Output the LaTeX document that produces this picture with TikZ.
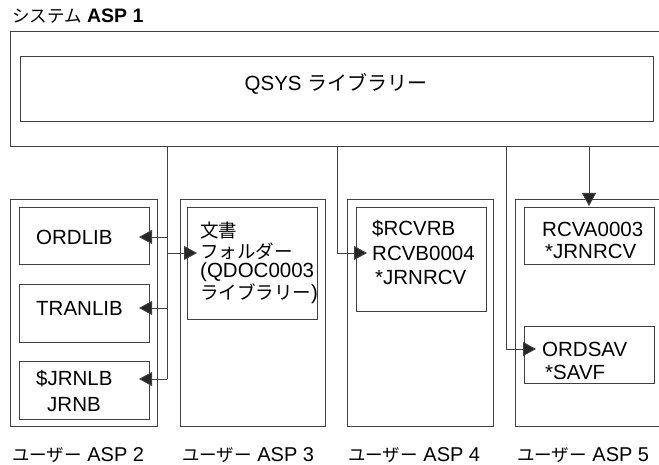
\documentclass[tikz,border=0pt]{standalone}
\usepackage{fontspec}
\setmainfont{Liberation Sans}
\newfontfamily\jpfont{Noto Sans CJK JP}
\newcommand{\jp}{\jpfont\fontsize{18.5}{21}\selectfont}
\newcommand{\jpsm}{\jpfont\fontsize{17.5}{21}\selectfont}
\usetikzlibrary{arrows.meta}
\begin{document}
\begin{tikzpicture}[x=1pt,y=-1pt,
  line/.style={draw=black!75, line width=0.9pt},
  box/.style={line, inner sep=0pt, outer sep=0pt, anchor=north west},
  lbl/.style={inner sep=0pt, anchor=west, font=\fontsize{20.5}{22}\selectfont},
  arr/.style={line, -{Triangle[length=13pt,width=14pt,fill=black!85]}}]
\useasboundingbox (0,0) rectangle (659,465);

% header
\node[lbl, font=\fontsize{19.5}{21}\selectfont] (hdr) at (12,16) {{\jpsm システム} \textbf{ASP 1}};

% system ASP 1 box (open to the right)
\coordinate (sysTR) at (659,31);
\coordinate (sysBR) at (659,146);
\draw[line] (sysTR) -| (10,146) -- (sysBR);
\node[box, minimum width=633pt, minimum height=65pt] (qsys) at (20,56) {};
\node[lbl, anchor=center] (qsyst) at (336,84) {QSYS {\jpfont\fontsize{20}{22}\selectfont ライブラリー}};

% user ASPs
\node[box, minimum width=147pt, minimum height=227pt] (asp2) at (10,199) {};
\node[box, minimum width=145pt, minimum height=227pt] (asp3) at (180,199) {};
\node[box, minimum width=146pt, minimum height=227pt] (asp4) at (347,199) {};
\coordinate (asp5TR) at (659,199);
\coordinate (asp5BR) at (659,426);
\draw[line] (asp5TR) -| (515,426) -- (asp5BR);

% inner boxes
\node[box, minimum width=130pt, minimum height=57pt] (ordlib) at (19,207) {};
\node[box, minimum width=130pt, minimum height=58pt] (tranlib) at (19,284) {};
\node[box, minimum width=130pt, minimum height=58pt] (jrnlb) at (19,361) {};
\node[box, minimum width=130pt, minimum height=112pt] (doc) at (187,207) {};
\node[box, minimum width=130pt, minimum height=104pt] (rcvb) at (356,207) {};
\node[box, minimum width=130pt, minimum height=57pt] (rcva) at (524,207) {};
\node[box, minimum width=130pt, minimum height=57pt] (ordsav) at (524,326) {};

% texts
\node[lbl] (ordlibt) at (36,237) {ORDLIB};
\node[lbl] (tranlibt) at (36,308) {TRANLIB};
\node[lbl] (jrnlbt) at (36,379) {\$JRNLB};
\node[lbl] (jrnbt) at (47,405) {JRNB};
\node[lbl] (doc1) at (200,230) {{\jp 文書}};
\node[lbl] (doc2) at (200,251) {{\jp フォルダー}};
\node[lbl] (doc3) at (200,272) {(QDOC0003};
\node[lbl] (doc4) at (200,294) {{\jp ライブラリー})};
\node[lbl] (rcvb1) at (372,229) {\$RCVRB};
\node[lbl] (rcvb2) at (372,253) {RCVB0004};
\node[lbl] (rcvb3) at (375,277) {*JRNRCV};
\node[lbl] (rcva1) at (542,229) {RCVA0003};
\node[lbl] (rcva2) at (545,251) {*JRNRCV};
\node[lbl] (ordsav1) at (542,349) {ORDSAV};
\node[lbl] (ordsav2) at (545,372) {*SAVF};

% bottom labels
\tikzset{blbl/.style={lbl, font=\fontsize{20}{22}\selectfont}}
\node[blbl] (l2) at (12,455) {{\jpsm ユーザー} ASP 2};
\node[blbl] (l3) at (182,455) {{\jpsm ユーザー} ASP 3};
\node[blbl] (l4) at (348,455) {{\jpsm ユーザー} ASP 4};
\node[blbl] (l5) at (517,455) {{\jpsm ユーザー} ASP 5};

% connectors
\coordinate (t1) at (167,146);
\coordinate (t2) at (337,146);
\coordinate (t3) at (506,146);
\coordinate (t4) at (589,146);
\coordinate (j1) at (167,237);
\coordinate (j2) at (167,253);
\coordinate (j3) at (167,308);
\coordinate (j4) at (167,379);
\draw[line] (t1) -- (j4);
\draw[arr] (j1) -- ([xshift=-10pt]ordlib.east |- j1);
\draw[arr] (j3) -- ([xshift=-10pt]tranlib.east |- j3);
\draw[arr] (j4) -- ([xshift=-10pt]jrnlb.east |- j4);
\draw[arr] (j2) -- ([xshift=10pt]doc.west |- j2);
\draw[arr] (t2) |- ([xshift=11pt]rcvb.west |- 0,253);
\draw[arr] (t3) |- ([xshift=12pt]ordsav.west |- 0,349);
\draw[arr] (t4) -- ([yshift=1pt]rcva.north -| t4);
\end{tikzpicture}
\end{document}
